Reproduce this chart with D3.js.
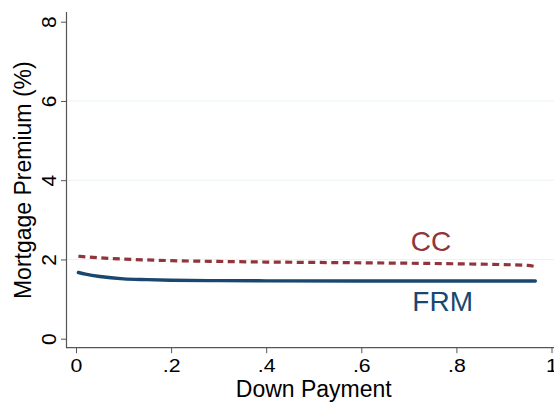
<!DOCTYPE html>
<html>
<head>
<meta charset="utf-8">
<script src="https://cdn.jsdelivr.net/npm/d3@7"></script>
<style>
  body { margin: 0; background: #fff; }
  svg { display: block; font-family: "Liberation Sans", Arial, Helvetica, sans-serif; }
</style>
</head>
<body>
<div id="chart"></div>
<script>
// data
const ccX = [0.005, 0.05, 0.1, 0.2, 0.3, 0.4, 0.5, 0.6, 0.7, 0.8, 0.9, 0.95, 0.966];
const ccY = [2.08, 2.04, 2.01, 1.97, 1.95, 1.935, 1.925, 1.915, 1.905, 1.89, 1.87, 1.85, 1.82];
const frmX = [0.005, 0.02, 0.05, 0.1, 0.15, 0.2, 0.3, 0.4, 0.6, 0.8, 0.966];
const frmY = [1.67, 1.63, 1.57, 1.51, 1.49, 1.475, 1.465, 1.46, 1.455, 1.455, 1.455];
const xTicks = [0, 0.2, 0.4, 0.6, 0.8, 1];
const xTickLabels = ['0', '.2', '.4', '.6', '.8', '1'];
const yTicks = [0, 2, 4, 6, 8];
const gridTicks = [2, 4, 6];

const width = 554, height = 403;
const svg = d3.select('#chart').append('svg')
    .attr('width', width).attr('height', height);

const x = d3.scaleLinear().domain([0, 1]).range([76, 551.5]);
const y = d3.scaleLinear().domain([0, 8]).range([338.7, 21.7]);
const axisLeft = 66.5, axisBottom = 347.7, axisTop = 12;

// gridlines
svg.selectAll('.grid').data(gridTicks).enter()
    .append('line')
    .attr('x1', axisLeft).attr('x2', width)
    .attr('y1', d => y(d)).attr('y2', d => y(d))
    .attr('stroke', '#eaf2f3').attr('stroke-width', 1);

// y axis
const yAxis = svg.append('g').attr('transform', `translate(${axisLeft},0)`)
    .call(d3.axisLeft(y).tickValues(yTicks).tickSize(5.5).tickFormat(d3.format('d')));
yAxis.select('.domain').remove();
yAxis.selectAll('.tick line').attr('stroke', '#555');
yAxis.selectAll('.tick text')
    .attr('x', 0).attr('dy', 0)
    .attr('transform', 'translate(-11,0) rotate(-90)')
    .attr('text-anchor', 'middle')
    .attr('font-size', 21).attr('fill', '#000');
svg.append('line')
    .attr('x1', axisLeft).attr('x2', axisLeft)
    .attr('y1', axisTop).attr('y2', axisBottom + 0.5)
    .attr('stroke', '#555').attr('stroke-width', 1.2);

// x axis
const xAxis = svg.append('g').attr('transform', `translate(0,${axisBottom})`)
    .call(d3.axisBottom(x).tickValues(xTicks).tickSize(5.5).tickFormat((d, i) => xTickLabels[i]));
xAxis.select('.domain').remove();
xAxis.selectAll('.tick line').attr('stroke', '#555');
xAxis.selectAll('.tick text')
    .attr('y', 0).attr('dy', 0)
    .attr('transform', 'translate(0,24) scale(1.15,1)')
    .attr('font-size', 18.5).attr('fill', '#000');
svg.append('line')
    .attr('x1', axisLeft).attr('x2', width)
    .attr('y1', axisBottom).attr('y2', axisBottom)
    .attr('stroke', '#555').attr('stroke-width', 1.2);

// axis titles
svg.append('text')
    .attr('x', (x(0) + x(1)) / 2).attr('y', 396.5)
    .attr('text-anchor', 'middle').attr('font-size', 23)
    .text('Down Payment');
svg.append('text')
    .attr('transform', `translate(31,${(y(0) + y(8)) / 2}) rotate(-90)`)
    .attr('text-anchor', 'middle').attr('font-size', 23)
    .text('Mortgage Premium (%)');

// lines
const line = d3.line().x(d => x(d[0])).y(d => y(d[1])).curve(d3.curveMonotoneX);

svg.append('path')
    .datum(ccX.map((v, i) => [v, ccY[i]]))
    .attr('d', line)
    .attr('fill', 'none').attr('stroke', '#90353b')
    .attr('stroke-width', 3.2).attr('stroke-dasharray', '7,4.5');

svg.append('path')
    .datum(frmX.map((v, i) => [v, frmY[i]]))
    .attr('d', line)
    .attr('fill', 'none').attr('stroke', '#1a476f')
    .attr('stroke-width', 3.4).attr('stroke-linecap', 'round');

// series labels
svg.append('text')
    .attr('x', 431).attr('y', 250.5)
    .attr('text-anchor', 'middle').attr('font-size', 28)
    .attr('fill', '#90353b').text('CC');
svg.append('text')
    .attr('x', 442.7).attr('y', 310.5)
    .attr('text-anchor', 'middle').attr('font-size', 28)
    .attr('fill', '#1a476f').text('FRM');
</script>
</body>
</html>
